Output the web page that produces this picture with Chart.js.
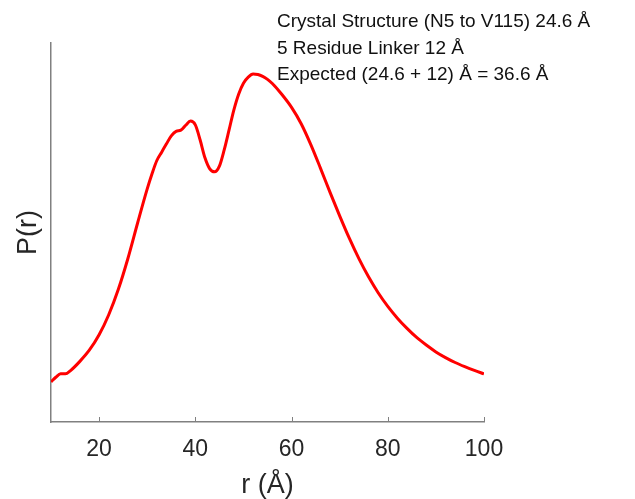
<!DOCTYPE html>
<html>
<head>
<meta charset="utf-8">
<script src="https://cdn.jsdelivr.net/npm/chart.js@4/dist/chart.umd.min.js"></script>
<style>
html,body{margin:0;padding:0;background:#fff;}
#wrap{width:635px;height:499px;position:relative;}
</style>
</head>
<body>
<div id="wrap"><canvas id="c" width="635" height="499"></canvas></div>
<script>
// Data
const rValues = [10,11,12,13,14,16,18,20,22,24,26,28,30,31,32,33,34,35,36,37,38,39,40,41,42,43,44,45,46,47,48,49,50,51,52,53,54,55,56,58,60,62,64,66,68,70,72,74,76,78,80,82,84,86,88,90,92,94,96,98,100];
const pValues = [0.106,0.118,0.127,0.127,0.135,0.160,0.190,0.230,0.283,0.350,0.432,0.525,0.615,0.655,0.690,0.712,0.734,0.755,0.767,0.770,0.783,0.794,0.784,0.744,0.697,0.668,0.660,0.675,0.718,0.770,0.823,0.865,0.894,0.910,0.918,0.917,0.912,0.904,0.893,0.864,0.830,0.787,0.732,0.670,0.606,0.544,0.485,0.431,0.383,0.341,0.305,0.274,0.247,0.223,0.203,0.185,0.170,0.157,0.146,0.136,0.127];
const xTicks = [20,40,60,80,100];
const annotationLines = [
  "Crystal Structure (N5 to V115) 24.6 Å",
  "5 Residue Linker 12 Å",
  "Expected (24.6 + 12) Å = 36.6 Å"
];

const FONT = "'Liberation Sans', Arial, Helvetica, sans-serif";
const AXIS_COLOR = '#808080';

const innerTicks = {
  id: 'innerTicks',
  afterDatasetsDraw(chart) {
    const x = chart.scales.x;
    const ctx = chart.ctx;
    ctx.save();
    ctx.strokeStyle = AXIS_COLOR;
    ctx.lineWidth = 1;
    xTicks.forEach(v => {
      const px = Math.round(x.getPixelForValue(v)) + 0.5;
      ctx.beginPath();
      ctx.moveTo(px, chart.chartArea.bottom);
      ctx.lineTo(px, chart.chartArea.bottom - 5);
      ctx.stroke();
    });
    ctx.restore();
  }
};

const annot = {
  id: 'annot',
  afterDraw(chart) {
    const ctx = chart.ctx;
    ctx.save();
    ctx.fillStyle = '#111';
    ctx.font = '19px ' + FONT;
    ctx.textBaseline = 'alphabetic';
    ctx.textAlign = 'left';
    annotationLines.forEach((t, i) => {
      ctx.fillText(t, 277, 27 + i * 26.5);
    });
    ctx.restore();
  }
};

new Chart(document.getElementById('c'), {
  type: 'line',
  data: {
    datasets: [{
      data: rValues.map((r, i) => ({x: r, y: pValues[i]})),
      borderColor: '#ff0000',
      borderWidth: 3,
      pointRadius: 0,
      cubicInterpolationMode: 'monotone',
      fill: false
    }]
  },
  options: {
    responsive: false,
    animation: false,
    devicePixelRatio: 1,
    layout: { padding: { left: 0, right: 151, top: 43, bottom: 0 } },
    plugins: { legend: { display: false }, tooltip: { enabled: false } },
    scales: {
      x: {
        type: 'linear',
        min: 10, max: 100,
        afterBuildTicks(scale) { scale.ticks = xTicks.map(v => ({value: v})); },
        afterFit(scale) { scale.height = 77; },
        grid: { display: true, drawOnChartArea: false, drawTicks: false, color: AXIS_COLOR },
        border: { display: true, color: AXIS_COLOR, width: 1.5 },
        ticks: { color: '#262626', font: { family: FONT, size: 23 }, padding: 14, maxRotation: 0 },
        title: { display: true, text: 'r (Å)', color: '#262626', font: { family: FONT, size: 27, lineHeight: 0.95 }, padding: { top: 0, bottom: 0.5 } }
      },
      y: {
        type: 'linear',
        min: 0, max: 1,
        afterFit(scale) { scale.width = 51; },
        grid: { display: false, drawTicks: false },
        border: { display: true, color: AXIS_COLOR, width: 1.5 },
        ticks: { display: false },
        title: { display: true, text: 'P(r)', color: '#262626', font: { family: FONT, size: 27, lineHeight: 1 }, padding: { top: 15, bottom: 0 } }
      }
    }
  },
  plugins: [innerTicks, annot]
});
</script>
</body>
</html>
